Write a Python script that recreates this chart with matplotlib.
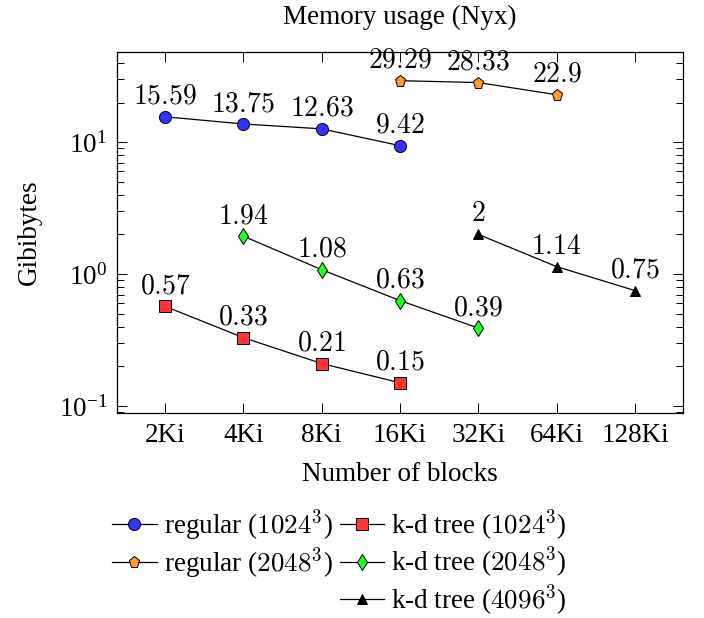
import matplotlib
matplotlib.use("Agg")
import matplotlib.pyplot as plt
from matplotlib.lines import Line2D
from matplotlib.ticker import FixedLocator, LogLocator, NullFormatter

plt.rcParams['font.family'] = ['Liberation Serif', 'DejaVu Serif']
plt.rcParams['mathtext.fontset'] = 'cm'
plt.rcParams['font.size'] = 19.5

tick_labels = ["2Ki", "4Ki", "8Ki", "16Ki", "32Ki", "64Ki", "128Ki"]

reg1024_x = [0, 1, 2, 3]
reg1024_y = [15.59, 13.75, 12.63, 9.42]
reg2048_x = [3, 4, 5]
reg2048_y = [29.29, 28.33, 22.9]
kd1024_x = [0, 1, 2, 3]
kd1024_y = [0.57, 0.33, 0.21, 0.15]
kd2048_x = [1, 2, 3, 4]
kd2048_y = [1.94, 1.08, 0.63, 0.39]
kd4096_x = [4, 5, 6]
kd4096_y = [2, 1.14, 0.75]

series = [
    ("regular ($1024^3$)", reg1024_x, reg1024_y, 'o', '#3333ff', 8.7),
    ("regular ($2048^3$)", reg2048_x, reg2048_y, 'p', '#ff9933', 8.3),
    ("k-d tree ($1024^3$)", kd1024_x, kd1024_y, 's', '#ff3333', 8.2),
    ("k-d tree ($2048^3$)", kd2048_x, kd2048_y, 'd', '#22ff22', 8.3),
    ("k-d tree ($4096^3$)", kd4096_x, kd4096_y, '^', 'black', 7.8),
]

fig = plt.figure(figsize=(7.04, 6.18), dpi=100)
ax = fig.add_axes([117/704, 1-413/618, 566/704, 361/618])

handles = {}
for label, xs, ys, m, c, ms in series:
    ln, = ax.plot(xs, ys, color='black', lw=0.9, marker=m, markersize=ms,
                  markerfacecolor=c, markeredgecolor='black', markeredgewidth=0.7,
                  label=label)
    handles[label] = ln
    for xv, yv in zip(xs, ys):
        txt = ('%g' % yv)
        ax.annotate('$' + txt + '$', (xv, yv), xytext=(0, 5), textcoords='offset points',
                    ha='center', va='bottom', fontsize=20)

ax.set_yscale('log')
ax.set_ylim(10**-1.053, 10**1.684)
ax.set_xlim(-0.613, 6.613)
ax.xaxis.set_major_locator(FixedLocator(range(7)))
ax.set_xticklabels(tick_labels)
ax.yaxis.set_major_locator(LogLocator(base=10, numticks=10))
ax.yaxis.set_minor_locator(LogLocator(base=10, subs=range(2, 10), numticks=10))
ax.yaxis.set_minor_formatter(NullFormatter())
ax.tick_params(which='both', direction='in', top=True, right=True, width=0.7)
ax.tick_params(which='major', length=7.5, labelsize=19.5, pad=7)
ax.tick_params(which='minor', length=5)
for s in ax.spines.values():
    s.set_linewidth(0.9)

ax.set_title("Memory usage (Nyx)", fontsize=19.5, pad=20)
ax.set_xlabel("Number of blocks", fontsize=19.5, labelpad=10)
ax.set_ylabel("Gibibytes", fontsize=19.5, labelpad=12)

blank = Line2D([], [], linestyle='none', marker=None)
order_h = [handles["regular ($1024^3$)"], handles["regular ($2048^3$)"], blank,
           handles["k-d tree ($1024^3$)"], handles["k-d tree ($2048^3$)"], handles["k-d tree ($4096^3$)"]]
order_l = ["regular ($1024^3$)", "regular ($2048^3$)", "",
           "k-d tree ($1024^3$)", "k-d tree ($2048^3$)", "k-d tree ($4096^3$)"]
fig.legend(order_h, order_l, ncol=2, loc='upper left', bbox_to_anchor=(112/704, 1-507/618),
           frameon=False, fontsize=19.5, handlelength=1.65, handletextpad=0.26,
           columnspacing=0.26, labelspacing=0.08, borderpad=0, borderaxespad=0)

fig.savefig("out.png", dpi=100)
